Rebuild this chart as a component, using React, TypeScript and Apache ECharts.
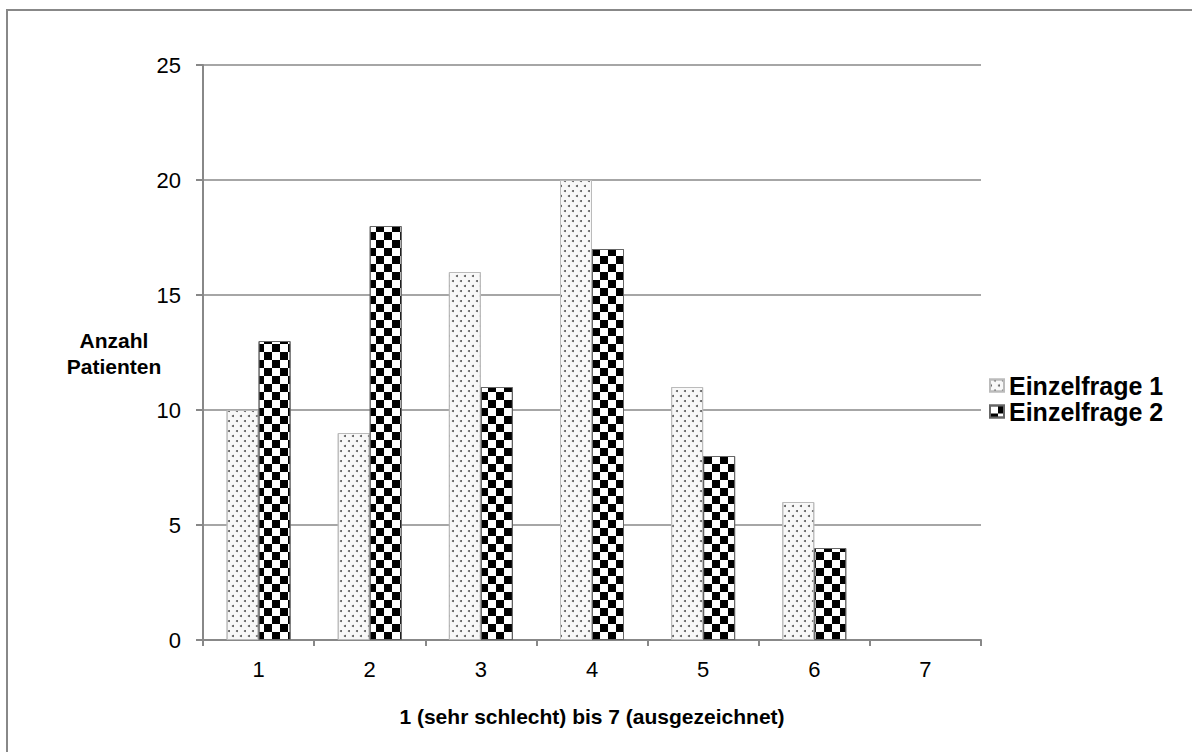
import React, { useEffect, useRef } from "react";
import * as echarts from "echarts";

const categories = ["1", "2", "3", "4", "5", "6", "7"];
const seriesNames = ["Einzelfrage 1", "Einzelfrage 2"];
const values1 = [10, 9, 16, 20, 11, 6, 0];
const values2 = [13, 18, 11, 17, 8, 4, 0];
const yTicks = { min: 0, max: 25, interval: 5 };
const xTitle = "1 (sehr schlecht) bis 7 (ausgezeichnet)";
const yTitle = "Anzahl\nPatienten";

const FONT = "'Liberation Sans', Arial, sans-serif";

const toData = (arr: number[]) => arr.map((v) => (v === 0 ? null : v));

export default function App() {
  const ref = useRef<HTMLDivElement>(null);
  useEffect(() => {
    if (!ref.current) return;
    const chart = echarts.init(ref.current, undefined, { renderer: "svg" });
    const option: any = {
      animation: false,
      backgroundColor: "#ffffff",
      textStyle: { fontFamily: FONT },
      grid: { left: 203, top: 65, right: 211, bottom: 112, containLabel: false },
      legend: {
        orient: "vertical",
        left: 984,
        top: 368,
        itemWidth: 14,
        itemHeight: 12,
        itemGap: 1,
        icon: "rect",
        data: seriesNames,
        textStyle: { fontSize: 25, fontWeight: "bold", color: "#000", fontFamily: FONT },
      },
      xAxis: {
        type: "category",
        data: categories,
        boundaryGap: true,
        name: xTitle,
        nameLocation: "middle",
        nameGap: 66,
        nameTextStyle: { fontSize: 21, fontWeight: "bold", color: "#000", fontFamily: FONT },
        axisLine: { lineStyle: { color: "#888", width: 2 } },
        axisTick: { show: true, length: 6, lineStyle: { color: "#888", width: 2 } },
        axisLabel: { fontSize: 22, color: "#000", margin: 18, fontFamily: FONT },
      },
      yAxis: {
        type: "value",
        min: yTicks.min,
        max: yTicks.max,
        interval: yTicks.interval,
        axisLine: { show: true, lineStyle: { color: "#888", width: 2 } },
        axisTick: { show: true, length: 7, lineStyle: { color: "#888", width: 2 } },
        axisLabel: { fontSize: 22, color: "#000", margin: 22, fontFamily: FONT },
        splitLine: { show: true, lineStyle: { color: "#888", width: 1.5 } },
      },
      graphic: [
        {
          type: "rect",
          shape: { x: 7, y: 10, width: 1300, height: 900 },
          style: { fill: "none", stroke: "#888", lineWidth: 2 },
          silent: true,
        },
        {
          type: "text",
          x: 114,
          y: 353,
          style: {
            text: yTitle,
            fontSize: 21,
            fontWeight: "bold",
            fill: "#000",
            fontFamily: FONT,
            align: "center",
            verticalAlign: "middle",
            lineHeight: 26,
          },
        },
      ],
      series: [
        {
          name: seriesNames[0],
          type: "bar",
          data: toData(values1),
          barWidth: 32,
          barGap: "0%",
          itemStyle: {
            color: "#f8f8f8",
            borderColor: "#bbb",
            borderWidth: 1,
            decal: {
              symbol: "circle",
              symbolSize: 1,
              color: "#555",
              dashArrayX: [[2, 6], [0, 4, 2, 2]],
              dashArrayY: [2, 2.5],
            },
          },
        },
        {
          name: seriesNames[1],
          type: "bar",
          data: toData(values2),
          barWidth: 32,
          barGap: "0%",
          itemStyle: {
            color: "#ffffff",
            borderColor: "#666",
            borderWidth: 1,
            decal: {
              symbol: "rect",
              symbolSize: 1,
              color: "#000",
              dashArrayX: [[8, 8], [0, 8, 8, 0]],
              dashArrayY: [8, 0],
            },
          },
        },
      ],
    };
    chart.setOption(option);
    return () => chart.dispose();
  }, []);
  return (
    <div
      ref={ref}
      style={{ position: "fixed", left: 0, top: 0, width: 1192, height: 752 }}
    />
  );
}
